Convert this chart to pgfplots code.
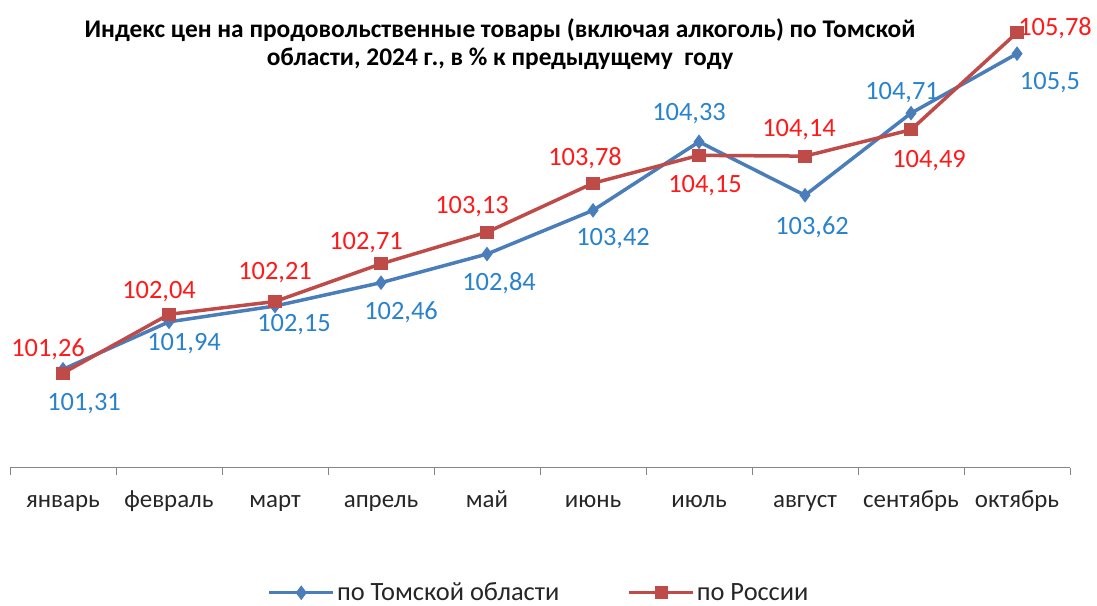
\documentclass[border=0pt]{standalone}
\usepackage{fontspec}
\setmainfont{Carlito}
\usepackage{pgfplots}
\pgfplotsset{compat=1.18}
\definecolor{tline}{RGB}{74,126,187}
\definecolor{rline}{RGB}{190,75,72}
\definecolor{tlab}{RGB}{40,130,205}
\definecolor{rlab}{RGB}{255,25,25}
\definecolor{axgray}{RGB}{134,134,134}
\begin{document}
\begin{tikzpicture}[x=1bp,y=1bp]
\path[use as bounding box] (0,0) rectangle (1097,606);
\node[align=center, font=\bfseries\fontsize{25.5}{28}\selectfont, text=black] at (500,562)
 {Индекс цен на продовольственные товары (включая алкоголь) по Томской\\ области, 2024 г., в \% к предыдущему\ \ году};
\begin{axis}[
 at={(10bp,138bp)}, anchor=south west,
 scale only axis, width=1060bp, height=452bp,
 xmin=-0.5, xmax=9.5, ymin=100, ymax=106,
 axis x line*=bottom, hide y axis,
 x axis line style={draw=axgray, line width=1bp, -},
 xtick={0,...,9},
 xticklabels={январь,февраль,март,апрель,май,июнь,июль,август,сентябрь,октябрь},
 major tick length=0pt,
 extra x ticks={-0.5,0.5,...,9.5}, extra x tick labels={},
 extra x tick style={major tick length=7bp, tick align=outside, tick style={draw=axgray, line width=1bp}},
 xticklabel style={font=\fontsize{25}{28}\selectfont, text=black!85, anchor=base, yshift=-40bp},
 clip=false,
 legend columns=2,
 legend style={at={(axis description cs:0.499,-0.276)}, anchor=center, draw=none, fill=none,
   font=\fontsize{26.5}{28}\selectfont, text=black!85,
   /tikz/every even column/.append style={column sep=66bp}},
 legend image code/.code={\draw[#1, mark repeat=2, mark phase=2] plot coordinates {(0bp,0bp) (32bp,0bp) (64bp,0bp)};},
]
\addplot[color=tline, line width=3.5bp, mark=diamond*, mark size=4.5bp, mark options={solid}]
 coordinates {(0,101.31) (1,101.94) (2,102.15) (3,102.46) (4,102.84) (5,103.42) (6,104.33) (7,103.62) (8,104.71) (9,105.5)};
\addlegendentry{по Томской области}
\addplot[color=rline, line width=3.5bp, mark=square*, mark size=4.8bp, mark options={solid}]
 coordinates {(0,101.26) (1,102.04) (2,102.21) (3,102.71) (4,103.13) (5,103.78) (6,104.15) (7,104.14) (8,104.49) (9,105.78)};
\addlegendentry{по России}
% Tomsk labels
\begin{scope}[every node/.style={text=tlab, font=\fontsize{26.5}{30}\selectfont, inner sep=0pt}]
\node[xshift=21bp, yshift=-34bp] at (axis cs:0,101.31) {101,31};
\node[xshift=15bp, yshift=-22bp] at (axis cs:1,101.94) {101,94};
\node[xshift=19bp, yshift=-19bp] at (axis cs:2,102.15) {102,15};
\node[xshift=20bp, yshift=-30bp] at (axis cs:3,102.46) {102,46};
\node[xshift=12bp, yshift=-29bp] at (axis cs:4,102.84) {102,84};
\node[xshift=20bp, yshift=-28bp] at (axis cs:5,103.42) {103,42};
\node[xshift=-10bp, yshift=28bp] at (axis cs:6,104.33) {104,33};
\node[xshift=7bp, yshift=-32bp] at (axis cs:7,103.62) {103,62};
\node[xshift=-9bp, yshift=21bp] at (axis cs:8,104.71) {104,71};
\node[xshift=33bp, yshift=-29bp] at (axis cs:9,105.5) {105,5};
\end{scope}
\begin{scope}[every node/.style={text=rlab, font=\fontsize{26.5}{30}\selectfont, inner sep=0pt}]
\node[xshift=-15bp, yshift=24bp] at (axis cs:0,101.26) {101,26};
\node[xshift=-10bp, yshift=23bp] at (axis cs:1,102.04) {102,04};
\node[xshift=0bp, yshift=29bp] at (axis cs:2,102.21) {102,21};
\node[xshift=-15bp, yshift=21bp] at (axis cs:3,102.71) {102,71};
\node[xshift=-15bp, yshift=26bp] at (axis cs:4,103.13) {103,13};
\node[xshift=-8bp, yshift=25bp] at (axis cs:5,103.78) {103,78};
\node[xshift=6bp, yshift=-30bp] at (axis cs:6,104.15) {104,15};
\node[xshift=-6bp, yshift=26bp] at (axis cs:7,104.14) {104,14};
\node[xshift=18bp, yshift=-31bp] at (axis cs:8,104.49) {104,49};
\node[xshift=38bp, yshift=4bp] at (axis cs:9,105.78) {105,78};
\end{scope}
\end{axis}
\end{tikzpicture}
\end{document}
